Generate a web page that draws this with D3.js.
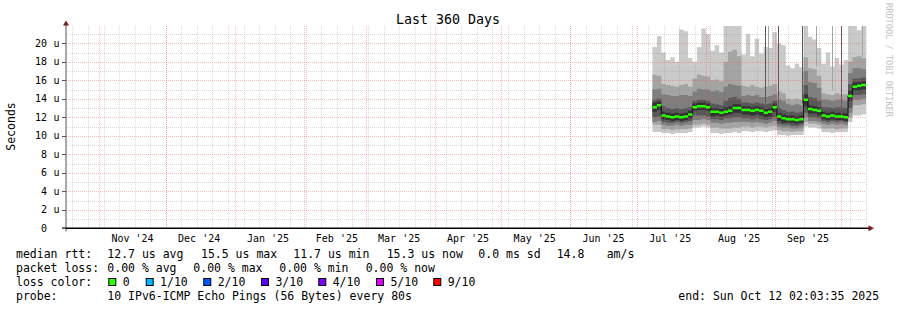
<!DOCTYPE html>
<html>
<head>
<meta charset="utf-8">
<script src="https://cdnjs.cloudflare.com/ajax/libs/d3/7.8.5/d3.min.js"></script>
<style>
  body { margin: 0; background: #fff; }
  svg text { font-family: "DejaVu Sans Mono", monospace; fill: #000; }
</style>
</head>
<body>
<div id="chart"></div>
<script>
// sample times (2 day steps, last one is the graph end)
const days = [
  "2025-07-08","2025-07-10","2025-07-12","2025-07-14","2025-07-16","2025-07-18","2025-07-20","2025-07-22","2025-07-24","2025-07-26","2025-07-28","2025-07-30",
  "2025-08-01","2025-08-03","2025-08-05","2025-08-07","2025-08-09","2025-08-11","2025-08-13","2025-08-15","2025-08-17","2025-08-19","2025-08-21","2025-08-23","2025-08-25","2025-08-27","2025-08-29","2025-08-31",
  "2025-09-02","2025-09-04","2025-09-06","2025-09-08","2025-09-10","2025-09-12","2025-09-14","2025-09-16","2025-09-18","2025-09-20","2025-09-22","2025-09-24","2025-09-26","2025-09-28","2025-09-30",
  "2025-10-02","2025-10-04","2025-10-06","2025-10-08","2025-10-10","2025-10-12T02:03:35Z"
];

// median rtt in microseconds
const median = [13.1,13.3,12.2,12.1,12.0,12.1,12.0,12.1,12.3,13.1,13.2,13.2,
  13.1,12.6,12.6,12.5,12.6,12.7,13.0,13.0,12.8,12.8,12.7,12.8,12.7,12.5,12.6,13.1,
  12.1,11.9,11.8,11.8,11.7,11.8,13.9,12.9,12.8,12.7,12.2,12.1,12.2,12.1,12.1,
  12.0,14.3,15.3,15.4,15.5,15.5];

// smoke: sorted pings, outer pair (hi1/lo1) to inner pair (hi5/lo5)
const hi1 = [19.6,20.8,19.0,18.2,18.5,18.0,21.5,21.3,18.4,18.0,19.6,21.6,
  21.0,19.2,19.8,19.0,21.9,21.9,21.9,21.9,18.8,21.0,18.6,20.5,18.9,19.6,19.5,21.2,
  20.0,19.8,17.6,17.3,17.8,17.4,21.9,20.7,20.4,19.5,17.8,19.0,17.5,18.4,17.7,
  18.2,21.9,21.9,21.4,21.9,21.9];
const hi2 = [16.6,16.5,15.6,15.5,15.4,15.3,15.5,15.6,15.3,16.2,16.6,16.5,
  16.4,16.0,16.1,15.9,18.0,19.1,19.3,18.6,15.4,15.3,15.5,15.3,15.2,15.3,15.4,15.6,
  14.8,14.6,14.0,13.9,14.0,13.9,18.5,17.3,17.2,16.5,14.6,14.5,14.4,14.6,14.5,
  14.5,18.0,18.5,18.6,18.4,18.4];
const hi3 = [15.0,15.1,14.5,14.4,14.3,14.3,14.4,14.4,14.3,14.8,15.1,15.0,
  15.0,14.8,14.9,14.7,15.3,15.6,15.5,15.4,14.3,14.4,14.3,14.4,14.2,14.2,14.3,14.5,
  13.9,13.8,13.4,13.3,13.4,13.3,17.0,15.8,15.7,15.2,13.9,13.9,13.8,13.9,13.9,
  13.8,16.8,17.3,17.3,17.2,17.2];
const hi4 = [13.9,14.0,13.2,13.0,12.9,13.0,12.9,13.0,13.1,13.8,13.9,13.9,
  13.8,13.5,13.4,13.3,13.8,14.1,14.2,14.0,13.6,13.6,13.5,13.6,13.5,13.4,13.5,13.8,
  13.0,12.8,12.6,12.6,12.5,12.6,15.5,14.2,14.1,13.8,13.1,13.1,13.0,13.1,13.1,
  13.0,15.6,16.2,16.2,16.3,16.3];
const hi5 = [13.6,13.7,12.6,12.5,12.4,12.5,12.4,12.5,12.7,13.5,13.6,13.6,
  13.5,13.0,13.0,12.9,13.1,13.2,13.4,13.4,13.2,13.2,13.1,13.2,13.1,12.9,13.0,13.5,
  12.5,12.3,12.2,12.2,12.1,12.2,14.5,13.3,13.2,13.1,12.6,12.5,12.6,12.5,12.5,
  12.4,14.9,15.8,15.8,15.9,15.9];
const lo5 = [12.6,12.8,11.8,11.7,11.6,11.7,11.6,11.7,11.9,12.7,12.8,12.8,
  12.7,12.1,12.2,12.1,12.2,12.3,12.5,12.5,12.3,12.3,12.2,12.3,12.2,12.0,12.1,12.6,
  11.6,11.4,11.4,11.4,11.3,11.4,13.2,12.4,12.4,12.2,11.8,11.7,11.8,11.7,11.7,
  11.6,13.8,14.9,14.9,15.0,15.0];
const lo4 = [12.0,12.1,11.5,11.4,11.4,11.5,11.4,11.5,11.6,12.2,12.2,12.2,
  12.1,11.8,11.8,11.7,11.9,11.9,12.0,12.0,11.9,11.9,11.8,11.9,11.8,11.7,11.8,12.0,
  11.3,11.2,11.2,11.1,11.1,11.2,12.5,12.0,12.0,11.9,11.6,11.5,11.6,11.5,11.6,
  11.5,13.0,14.4,14.4,14.5,14.5];
const lo3 = [11.5,11.6,11.2,11.1,11.1,11.2,11.1,11.2,11.2,11.7,11.7,11.8,
  11.7,11.4,11.4,11.3,11.4,11.4,11.5,11.5,11.5,11.5,11.4,11.5,11.4,11.3,11.4,11.6,
  11.0,10.9,10.9,10.8,10.8,10.9,12.0,11.6,11.6,11.5,11.3,11.2,11.3,11.2,11.3,
  11.2,12.5,13.9,13.9,14.0,14.0];
const lo2 = [11.2,11.2,10.7,10.7,10.6,10.7,10.7,10.7,10.8,11.2,11.2,11.3,
  11.2,10.9,10.9,10.8,10.8,10.8,10.9,10.9,11.0,11.0,10.9,11.0,11.0,10.9,11.0,11.1,
  10.6,10.5,10.5,10.4,10.5,10.5,11.5,11.3,11.3,11.2,10.8,10.8,10.8,10.7,10.8,
  10.8,12.0,13.3,13.3,13.4,13.4];
const lo1 = [10.4,10.4,10.3,10.3,10.2,10.3,10.3,10.3,10.4,10.9,10.9,11.0,
  10.9,10.3,10.3,10.2,10.3,10.3,10.4,10.3,10.5,10.5,10.4,10.5,10.5,10.4,10.5,10.6,
  10.1,10.1,10.0,10.1,10.1,10.1,11.0,10.9,10.9,10.8,10.4,10.4,10.3,10.4,10.4,
  10.4,11.5,12.2,12.2,12.3,12.3];

// single columns where the upper pings shot up
const spikeTimes = ["2025-08-27T10:00Z","2025-08-29T05:00Z","2025-09-02T07:00Z","2025-09-13T12:00Z","2025-09-19T19:00Z","2025-09-27T00:00Z","2025-10-01T00:00Z","2025-10-10T12:00Z"];
const spikeLow = [13.5, 15.0, 12.2, 13.5, 17.5, 15.0, 12.2, 18.5];
const spikeBand = [3, 1, 3, 3, 1, 1, 3, 1];

const yTicks = [0, 2, 4, 6, 8, 10, 12, 14, 16, 18, 20];
const months = ["2024-11-01","2024-12-01","2025-01-01","2025-02-01","2025-03-01","2025-04-01","2025-05-01","2025-06-01","2025-07-01","2025-08-01","2025-09-01"];
const monthLabels = ["Nov '24","Dec '24","Jan '25","Feb '25","Mar '25","Apr '25","May '25","Jun '25","Jul '25","Aug '25","Sep '25"];

const rttStats = ["12.7 us avg", "15.5 us max", "11.7 us min", "15.3 us now", "0.0 ms sd", "14.8", "am/s"];
const lossStats = ["0.00 % avg", "0.00 % max", "0.00 % min", "0.00 % now"];
const lossLabels = ["0", "1/10", "2/10", "3/10", "4/10", "5/10", "9/10"];
const lossColors = ["#26ff00", "#00b8ff", "#0059ff", "#5e00ff", "#7e00ff", "#dd00ff", "#ff0000"];

const w = 897, h = 310;
const pLeft = 66, pRight = 866, pBottom = 228.3, pTop = 26;
const start = new Date("2024-10-17T02:03:35Z"), end = new Date("2025-10-12T02:03:35Z");

const x = d3.scaleUtc().domain([start, end]).range([pLeft, pRight]);
const y = d3.scaleLinear().domain([0, (pBottom - pTop) / 9.25]).range([pBottom, pTop]);
const yMax = y.domain()[1];

const svg = d3.select("#chart").append("svg")
  .attr("width", w).attr("height", h)
  .style("display", "block");

const t = days.map(d => new Date(d));

// smoke bands, lightest first
const smokeColors = ["#cacaca", "#a4a4a4", "#7e7e7e", "#585858", "#323232"];
const bands = [[lo1, hi1], [lo2, hi2], [lo3, hi3], [lo4, hi4], [lo5, hi5]];
bands.forEach(([lo, hi], k) => {
  const area = d3.area().curve(d3.curveStepAfter)
    .x((d, i) => x(t[i]))
    .y0((d, i) => y(lo[i]))
    .y1((d, i) => y(Math.min(hi[i], yMax)));
  svg.append("path").attr("d", area(t)).attr("fill", smokeColors[k]);
});

svg.selectAll("rect.spike")
  .data(spikeTimes)
  .enter().append("rect")
  .attr("class", "spike")
  .attr("x", d => Math.round(x(new Date(d))))
  .attr("y", y(yMax))
  .attr("width", 1)
  .attr("height", (d, i) => y(spikeLow[i]) - y(yMax))
  .attr("fill", (d, i) => smokeColors[spikeBand[i]]);

// grid (dotted, minor grey / major pink)
const minorCol = "rgba(140,140,140,0.32)", majorCol = "rgba(255,70,70,0.38)";
const grid = svg.append("g");
const minorY = d3.range(1, 22).filter(v => v % 2 === 1);
grid.selectAll("line.hmin").data(minorY).enter().append("line")
  .attr("x1", pLeft).attr("x2", pRight)
  .attr("y1", d => Math.round(y(d)) + 0.5).attr("y2", d => Math.round(y(d)) + 0.5)
  .attr("stroke", minorCol).attr("stroke-dasharray", "1,1");
const weeks = d3.utcSunday.range(start, end);
grid.selectAll("line.vmin").data(weeks).enter().append("line")
  .attr("x1", d => Math.round(x(d)) + 0.5).attr("x2", d => Math.round(x(d)) + 0.5)
  .attr("y1", pTop).attr("y2", pBottom)
  .attr("stroke", minorCol).attr("stroke-dasharray", "1,1");
grid.selectAll("line.hmaj").data(yTicks.slice(1)).enter().append("line")
  .attr("x1", pLeft).attr("x2", pRight)
  .attr("y1", d => Math.round(y(d)) + 0.5).attr("y2", d => Math.round(y(d)) + 0.5)
  .attr("stroke", majorCol).attr("stroke-dasharray", "1,1");
grid.selectAll("line.vmaj").data(months.concat(["2025-10-01"])).enter().append("line")
  .attr("x1", d => Math.round(x(new Date(d))) + 0.5).attr("x2", d => Math.round(x(new Date(d))) + 0.5)
  .attr("y1", pTop).attr("y2", pBottom)
  .attr("stroke", majorCol).attr("stroke-dasharray", "1,1");

// median: dark step line, green level segments on top
const stepLine = d3.line().curve(d3.curveStepAfter).x((d, i) => x(t[i])).y((d, i) => y(median[i]));
svg.append("path").attr("d", stepLine(t)).attr("fill", "none").attr("stroke", "#111").attr("stroke-width", 1);
const segs = t.slice(0, -1).map((d, i) => `M${x(d)},${y(median[i])}H${x(t[i + 1])}`).join("");
svg.append("path").attr("d", segs).attr("fill", "none").attr("stroke", lossColors[0]).attr("stroke-width", 2.5);

// axes
svg.append("line").attr("x1", pLeft).attr("x2", pLeft).attr("y1", 24).attr("y2", pBottom + 3)
  .attr("stroke", "#555").attr("stroke-width", 1);
svg.append("line").attr("x1", 62).attr("x2", 869).attr("y1", pBottom).attr("y2", pBottom)
  .attr("stroke", "#000").attr("stroke-width", 1.6);
svg.append("path").attr("d", `M${pLeft},20.5L${pLeft - 3},25.5L${pLeft + 3},25.5Z`).attr("fill", "#7a1a1a");
svg.append("path").attr("d", `M874,${pBottom}L868.5,${pBottom - 3}L868.5,${pBottom + 3}Z`).attr("fill", "#7a1a1a");

const yt = svg.append("g");
yt.selectAll("line").data(yTicks).enter().append("line")
  .attr("x1", 62).attr("x2", pLeft)
  .attr("y1", d => Math.round(y(d)) + 0.5).attr("y2", d => Math.round(y(d)) + 0.5)
  .attr("stroke", "#555");
yt.selectAll("text.num").data(yTicks).enter().append("text")
  .attr("x", 47).attr("y", d => y(d) + 3.6)
  .attr("text-anchor", "end").attr("font-size", 10)
  .text(d => d);
yt.selectAll("text.unit").data(yTicks.filter(d => d > 0)).enter().append("text")
  .attr("x", 53.5).attr("y", d => y(d) + 3.6)
  .attr("font-size", 10)
  .text("u");

svg.selectAll("text.month").data(months).enter().append("text")
  .attr("x", d => x(d3.utcDay.offset(new Date(d), 15)))
  .attr("y", 242)
  .attr("text-anchor", "middle").attr("font-size", 10)
  .text((d, i) => monthLabels[i]);

// titles
svg.append("text").attr("x", 448).attr("y", 24).attr("text-anchor", "middle")
  .attr("font-size", 13.3).text("Last 360 Days");
svg.append("text").attr("transform", "translate(14.5,126.5) rotate(-90)")
  .attr("text-anchor", "middle").attr("font-size", 11.5).text("Seconds");
svg.append("text").attr("transform", "translate(886,60) rotate(90)")
  .attr("text-anchor", "middle").attr("font-size", 8.6)
  .style("fill", "#c4c4c4").text("RRDTOOL / TOBI OETIKER");

// legend
const lg = svg.append("g").attr("font-size", 11.5);
const row = (txt, yy) => lg.append("text").attr("x", 16).attr("y", yy).text(txt);
row("median rtt:", 258);
row("packet loss:", 272);
row("loss color:", 286);
row("probe:", 300);

const rttX = [107.3, 201, 293.3, 386.7, 478.3, 556.7, 606.7];
rttStats.forEach((s, i) => lg.append("text").attr("x", rttX[i]).attr("y", 258).text(s));
const lossX = [107.3, 193.3, 279.3, 365.7];
lossStats.forEach((s, i) => lg.append("text").attr("x", lossX[i]).attr("y", 272).text(s));

const boxX = [108.3, 145.7, 203.3, 261, 318.3, 376, 433.3];
lossLabels.forEach((s, i) => {
  lg.append("rect").attr("x", boxX[i] + 0.5).attr("y", 278.5).attr("width", 7).attr("height", 7)
    .attr("fill", lossColors[i]).attr("stroke", "#000").attr("stroke-width", 1);
  lg.append("text").attr("x", boxX[i] + 14.4).attr("y", 286).text(s);
});

lg.append("text").attr("x", 107.3).attr("y", 300).text("10 IPv6-ICMP Echo Pings (56 Bytes) every 80s");
lg.append("text").attr("x", 678.3).attr("y", 300).text("end: Sun Oct 12 02:03:35 2025");
</script>
</body>
</html>
